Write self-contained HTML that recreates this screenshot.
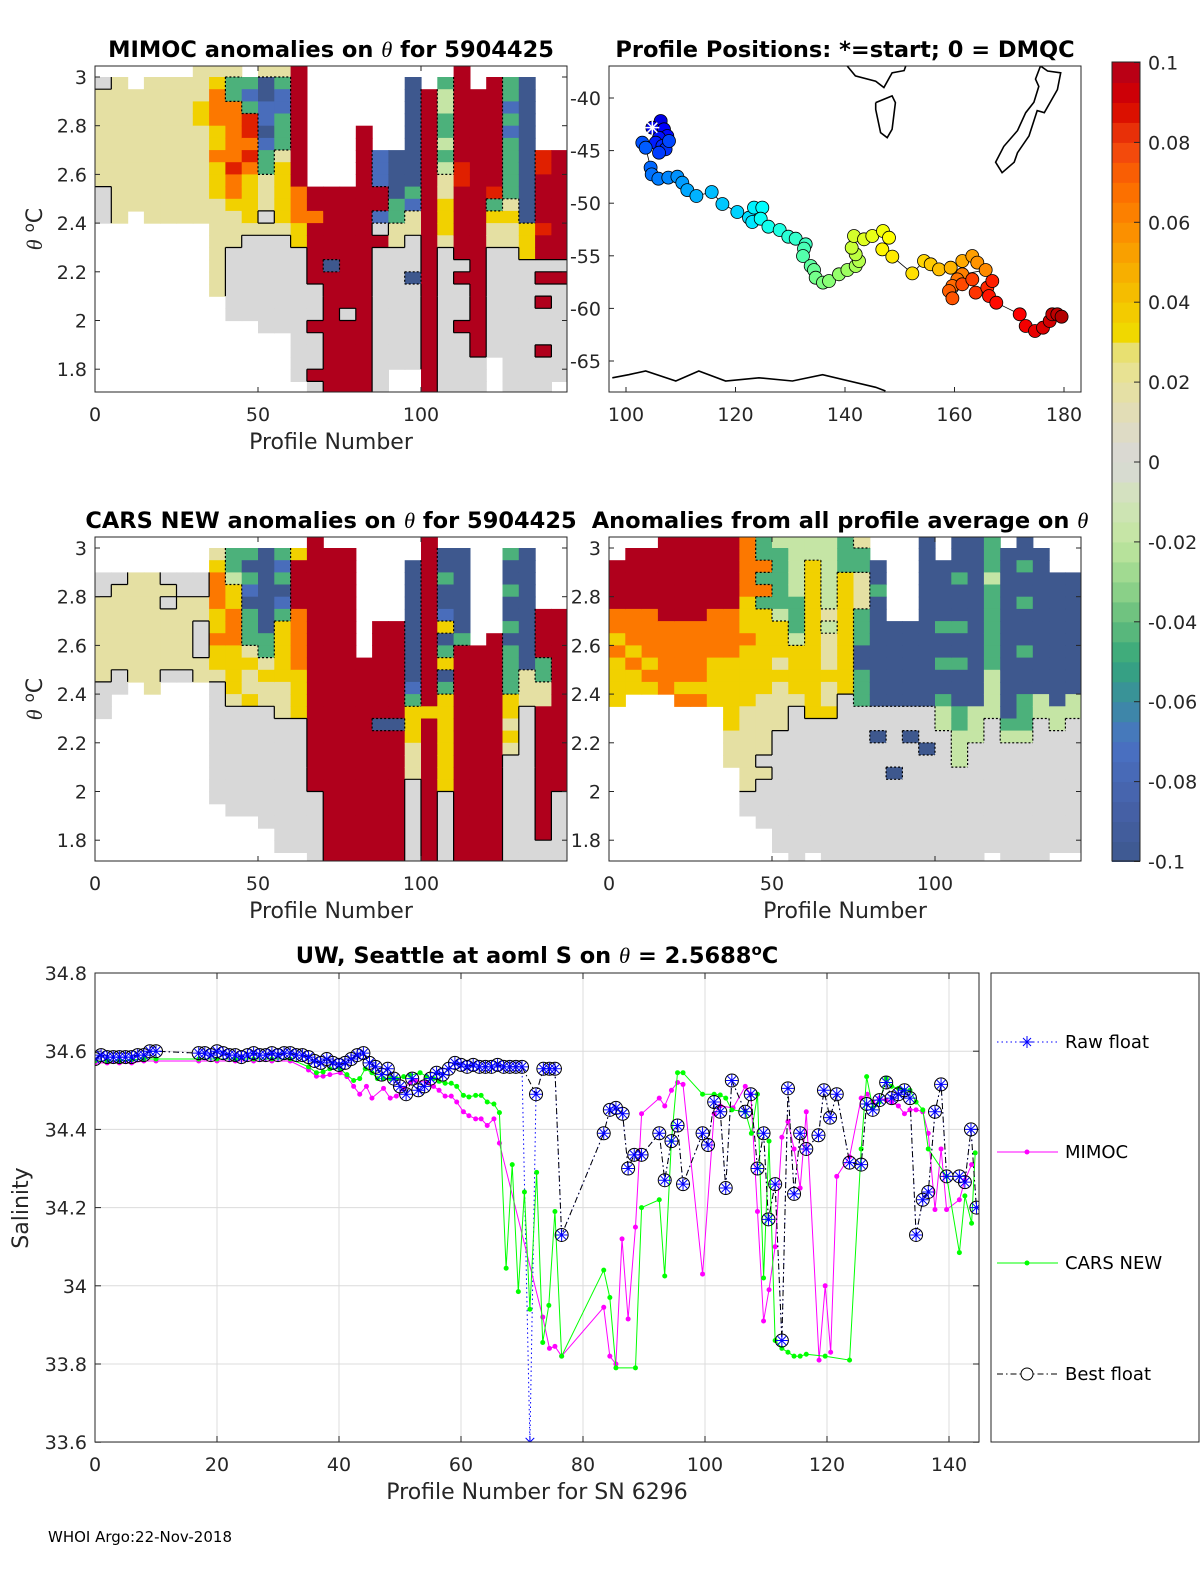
<!DOCTYPE html>
<html><head><meta charset="utf-8">
<style>
html,body{margin:0;padding:0;background:#fff;}
svg{display:block;font-family:"DejaVu Sans","Liberation Sans",sans-serif;}
.t{font-size:19px;fill:#262626;}
.ttl{font-size:22.5px;font-weight:bold;fill:#000;}
.lab{font-size:22px;fill:#262626;}
</style></head>
<body>
<svg id="fig" width="1200" height="1575" viewBox="0 0 1200 1575">
<defs>
<clipPath id="c1"><rect x="95" y="66" width="472" height="326"/></clipPath>
<clipPath id="c3"><rect x="95" y="537" width="472" height="324"/></clipPath>
<clipPath id="c4"><rect x="609" y="537" width="472" height="324"/></clipPath>
<clipPath id="cm"><rect x="609" y="66" width="472" height="326"/></clipPath>
<clipPath id="cb"><rect x="95" y="973" width="884" height="469"/></clipPath>
</defs>
<g id="p1"></g>
<g id="pm"></g>
<g id="p3"></g>
<g id="p4"></g>
<g id="cbar"></g>
<g id="pb"></g>

<text class="ttl" x="331" y="57" text-anchor="middle">MIMOC anomalies on <tspan font-style="italic" font-weight="normal" font-family="Liberation Serif">θ</tspan>  for 5904425</text>
<text class="ttl" x="845" y="57" text-anchor="middle">Profile Positions: *=start; 0 = DMQC</text>
<text class="ttl" x="331" y="528" text-anchor="middle">CARS NEW anomalies on <tspan font-style="italic" font-weight="normal" font-family="Liberation Serif">θ</tspan> for 5904425</text>
<text class="ttl" x="840" y="528" text-anchor="middle">Anomalies from all profile average on <tspan font-style="italic" font-weight="normal" font-family="Liberation Serif">θ</tspan></text>
<text class="lab" x="331" y="449" text-anchor="middle">Profile Number</text>
<text class="lab" x="331" y="918" text-anchor="middle">Profile Number</text>
<text class="lab" x="845" y="918" text-anchor="middle">Profile Number</text>
<text class="lab" transform="translate(42,229) rotate(-90)" text-anchor="middle"><tspan font-style="italic" font-family="Liberation Serif">θ</tspan> <tspan dy="-8" font-size="15">o</tspan><tspan dy="8">C</tspan></text>
<text class="lab" transform="translate(42,699) rotate(-90)" text-anchor="middle"><tspan font-style="italic" font-family="Liberation Serif">θ</tspan> <tspan dy="-8" font-size="15">o</tspan><tspan dy="8">C</tspan></text>
<text class="ttl" x="537" y="963" text-anchor="middle">UW, Seattle at aoml S on <tspan font-style="italic" font-weight="normal" font-family="Liberation Serif">θ</tspan> = 2.5688<tspan dy="-8" font-size="15">o</tspan><tspan dy="8">C</tspan></text>
<text class="lab" x="537" y="1499" text-anchor="middle">Profile Number for SN 6296</text>
<text class="lab" transform="translate(28,1208) rotate(-90)" text-anchor="middle">Salinity</text>
<text x="48" y="1542" font-size="15" fill="#000">WHOI Argo:22-Nov-2018</text>

<g>
<rect x="991" y="973" width="208" height="469" fill="#fff" stroke="#262626" stroke-width="1"/>
<g>
<line x1="997" y1="1042" x2="1058" y2="1042" stroke="#0000ff" stroke-dasharray="1.5,3"/>
<path d="M1021 1042h12M1027 1036v12M1023 1038l8 8M1031 1038l-8 8" stroke="#0000ff" stroke-width="1"/>
<text x="1065" y="1048" font-size="18" fill="#000">Raw float</text></g>
<g>
<line x1="997" y1="1152" x2="1058" y2="1152" stroke="#ff00ff"/><circle cx="1027" cy="1152" r="2.5" fill="#ff00ff"/>
<text x="1065" y="1158" font-size="18" fill="#000">MIMOC</text></g>
<g>
<line x1="997" y1="1263" x2="1058" y2="1263" stroke="#00ff00"/><circle cx="1027" cy="1263" r="2.5" fill="#00ff00"/>
<text x="1065" y="1269" font-size="18" fill="#000">CARS NEW</text></g>
<g>
<line x1="997" y1="1374" x2="1058" y2="1374" stroke="#000" stroke-dasharray="6,3,1.5,3"/><circle cx="1027" cy="1374" r="6" fill="#fff" stroke="#000"/>
<text x="1065" y="1380" font-size="18" fill="#000">Best float</text></g>
</g>
</svg>
<script>
// ---------------- DATA ----------------
const anomalyCodes = ['R','r','o','y','l','g','e','c','b','B'];
const anomalyValues = [0.1,0.085,0.065,0.035,0.018,0,-0.018,-0.045,-0.075,-0.1];
const mimocGrid = [
"wgllllllllggg","wllllllllllll","wwllllllllll","wllllllllllll","wllllllllllll","wllllllllllll",
"lllyyllllllll","lyoooyyoyyyllllllll","lccooooorooylllgggggg","wcbcrroroyyyylggggggg",
"lBBbbBbcclllglgggggggg","lcbbccclyyyyylgggggggg","RRRRRRRRRRoooyyggggggggggg",
"wwwwwwwwwwRRoRRRRRgggRgggRg","wwwwwwwwwwRRRRRRBRRRRRRRRRR","wwwwwwwwwwRRRRRRRRRRgRRRRRR",
"wwwwwRRRRRRRRRRRRRRRRRRRRRR","wwwwwwwbbbRRbgRgggggggggggg","wwwwwwwBBBBccllggggggggggww",
"wBBBBBBBBBcbllgggBgggggggww","wwRRRRRRRRRRRRRRRRRRRRRRRRR","wceeccecellyyylgggggggggggg",
"RRRRRRRRrrRRRRRRgRgggRggggg","wwRRRRRRRRRRRRRRRRRRRRRRggg","wRRRRRRRRRrcyllgggggggggwww",
"wccbcbccccclyllgggggggggggg","wBBBBBBBBBBBByyyggggggggggg","wwwwwwwrrRRRRrRRgRgRgggRggg","wwwwwwwRRRRRRRRRgRggggggggw"];
const carsGrid = [
"wwwgglllllllggg","wwwglllllllgg","wwwlllllllll","wwwllllllllll","wwwglglllllg","wwwggllllllg",
"wwwggllgggll","wlyoooyyoyylgggggggggg","wcceyyoooyyyylggggggggg","wcBcbBccclyllyggggggggg",
"wBBBBBBBcclyllgggggggggg","wcbcBbcyyyyylllggggggggggg","wyRRRRoooooyyyyggggggggggg",
"RRRRRRRRRRRRRRRRRRRRRgggggg","wRRRRRRRRRRRRRRRRRRRRRRRRRR","wRRRRRRRRRRRRRRRRRRRRRRRRRR",
"wwwwwwwwwwRRRRRRRRRRRRRRRRR","wwwwwwwRRRRRRRRBRRRRRRRRRRR","wwwwwwwRRRRRRRRBRRRRRRRRRRR",
"wwBBBBBBBBBBbcyyylllggggggg","RRRRRRRRRRRRRRyRRRRRRRRRRRR","wBBcBBbyBcyBcyyyyyyyygggggg",
"wBBBBBBBcRRRRRRRRRRRRRRRRRR","wwwwwwwwwRRRRRRRRRRRRRRRRRR","wwwwwwwwRRRRRRRRRRRRRRRRRRR",
"wcBBcBBcBccccyylylggggggggg","wBBBBBBBBBBlllggggggggggggg","wwwwwwRRRRccllRRRRRRRRRRRgg","wwwwwwRRRRRRRRRRRRRRRgggggg"];
const avgGrid = [
"wwRRRRooyoyyyy","wRRRRRoooyoyy","wRRRRRooooyoy","RRRRRRRoooooo","RRRRRRRoooooyo","RRRRRRRoooooyo",
"RRRRRRooooyyyy","RRRRRRooooyyyyyylll","oooooyyyoyyyyylllllllgg","ccococyyyyyyylllllglgggg",
"eccccceyyylyllllgggggggggg","eeeeeccceyyyylgggggggggggggw","eeyyyyyyyyyyyyygggggggggggw",
"eeeeeelelllyllygggggggggggg","cccyyyyyyyyyygggggggggggggg","lcclllcccBBcccggggggggggggg",
"wwBBcBBBBBBBBBggBgggggggggg","wwwwwwwBBBBBBBgggggBggggggg","wwwwwwwBBBBBBBggBgggggggggg",
"BBBBBBBBBBBBBBgggBggggggggg","wwBBBBBcBBcBBceeggggggggggg","BBBcBBBcBBcBBBcceeeggggggggg",
"BBBBBBBBBBBBBBeeeggggggggggg","ccceccccccceeeeggggggggggg","wBBBBBBBBBBBBBBcegggggggggg",
"BBcBBcBBBcBBBccceggggggggggg","wBBBBBBBBBBBBeegggggggggggg","wwwBBBBBBBBBBBeegggggggggg","wwwBBBBBBBBBBeeggggggggggg"];

const trackLon = [106.33,104.81,106.94,107.55,106.03,105.42,106.64,107.24,106.03,107.85,102.98,103.59,104.50,104.69,105.91,107.73,109.38,110.29,111.20,112.85,115.65,117.60,120.33,122.47,123.07,123.38,124.90,124.60,126.00,128.07,129.65,130.99,132.82,132.51,132.33,133.73,134.34,134.64,135.98,137.08,138.90,140.43,141.95,142.56,141.95,141.22,141.64,143.47,144.99,146.94,148.04,146.82,148.64,152.30,154.43,155.65,157.17,159.30,161.43,163.26,164.17,165.69,161.43,160.52,159.61,159.00,159.61,161.43,163.26,163.87,165.99,166.91,166.30,167.64,171.90,173.00,174.70,176.16,177.38,177.87,178.78,179.57];
const trackLat = [-42.19,-42.82,-42.98,-43.61,-43.77,-44.25,-44.56,-44.88,-45.20,-44.09,-44.25,-44.72,-46.62,-47.26,-47.67,-47.57,-47.48,-48.05,-48.75,-49.32,-48.94,-50.08,-50.84,-51.38,-51.79,-50.42,-50.42,-51.47,-52.23,-52.55,-53.18,-53.37,-53.91,-54.32,-55.02,-55.97,-56.35,-57.08,-57.55,-57.40,-56.76,-56.35,-55.97,-55.49,-54.86,-54.23,-53.12,-53.43,-53.12,-52.64,-53.28,-54.39,-55.08,-56.67,-55.49,-55.81,-56.29,-56.13,-55.49,-55.02,-55.65,-56.35,-56.76,-57.24,-57.87,-58.35,-59.04,-57.71,-57.24,-58.50,-58.03,-57.40,-58.82,-59.46,-60.56,-61.67,-62.15,-61.83,-61.20,-60.56,-60.56,-60.79];
const coastAntarctica = [[97.5,-66.6],[100.5,-66.3],[103.6,-65.95],[109.1,-66.9],[113.3,-65.95],[118.2,-66.9],[124.3,-66.6],[130.4,-66.9],[135.9,-66.3],[145.6,-67.5],[147.4,-67.85]];
const coastAustralia = [[140.4,-36.96],[141.9,-37.9],[145.6,-38.4],[147.1,-39.0],[148.6,-37.6],[150.8,-37.4],[151.1,-36.96]];
const coastTasmania = [[145.6,-40.44],[148.6,-39.8],[149.2,-40.44],[148.6,-42.98],[147.7,-43.77],[146.5,-43.3],[145.6,-41.08],[145.6,-40.44]];
const coastNZ = [[175.7,-36.96],[177.0,-37.43],[179.4,-37.6],[178.8,-39.2],[176.4,-41.4],[175.1,-41.2],[173.6,-43.6],[171.5,-45.2],[170.9,-46.1],[168.7,-47.1],[167.5,-46.1],[169.0,-44.6],[171.5,-43.1],[173.0,-41.4],[174.5,-40.4],[175.4,-38.9],[174.8,-38.2],[175.7,-36.96]];

const bestX = [0,1,2,3,4,5,6,7,8,9,10,17,18,19,20,21,22,23,24,25,26,27,28,29,30,31,32,33,34,35,36,37,38,39,40,41,42,43,44,45,46,47,48,49,50,51,52,53,54,55,56,57,58,59,60,61,62,63,64,65,66,67,68,69,70,
72.3,73.5,74.5,75.4,76.5,83.4,84.4,85.4,86.5,87.4,88.4,89.6,92.5,93.4,94.5,95.5,96.4,99.6,100.5,101.5,102.5,103.4,104.4,106.6,107.5,108.6,109.6,110.4,111.5,112.6,113.6,114.6,115.6,116.6,118.6,119.5,120.5,121.6,123.7,125.6,126.5,127.5,128.6,129.7,130.6,131.7,132.7,133.6,134.6,135.7,136.6,137.7,138.7,139.6,141.7,142.6,143.6,144.5];
const bestS = [34.58,34.59,34.585,34.585,34.585,34.585,34.585,34.59,34.59,34.6,34.6,34.595,34.595,34.59,34.6,34.595,34.59,34.59,34.585,34.59,34.595,34.59,34.59,34.595,34.59,34.595,34.595,34.59,34.59,34.585,34.575,34.57,34.58,34.57,34.565,34.57,34.58,34.59,34.595,34.57,34.56,34.54,34.555,34.53,34.51,34.49,34.53,34.5,34.51,34.53,34.545,34.54,34.555,34.57,34.565,34.56,34.565,34.56,34.56,34.56,34.565,34.56,34.56,34.56,34.56,
34.49,34.555,34.555,34.555,34.13,34.39,34.45,34.455,34.44,34.30,34.335,34.335,34.39,34.27,34.37,34.41,34.26,34.39,34.36,34.47,34.445,34.25,34.525,34.445,34.49,34.30,34.39,34.17,34.26,33.86,34.505,34.235,34.39,34.35,34.385,34.50,34.43,34.49,34.315,34.31,34.465,34.45,34.475,34.52,34.48,34.49,34.50,34.48,34.13,34.22,34.24,34.445,34.515,34.28,34.28,34.265,34.40,34.20];
const rawX = bestX.slice(0,65).concat([71.3]).concat(bestX.slice(65));
const rawS = bestS.slice(0,65).concat([33.6]).concat(bestS.slice(65));
const mimocX = [0,2,4,6,8,10,17,20,23,26,29,32,35,36.3,37.4,38.5,40.2,41.3,42.4,43.4,44.5,45.4,47.3,48.4,49.4,50.6,51.7,52.5,54.4,55.5,56.4,57.4,58.4,59.3,60.4,61.3,62.4,63.3,64.3,65.4,66.3,
73.4,74.5,75.4,76.5,83.4,84.4,85.4,86.4,87.4,88.6,89.6,92.5,93.4,94.5,95.5,96.4,99.6,101.5,102.5,104.6,106.6,107.5,108.6,109.6,110.5,111.5,112.6,113.6,114.6,115.6,116.6,118.7,119.7,120.6,121.6,123.7,125.6,126.6,127.5,128.6,129.7,130.6,131.7,132.7,133.6,134.6,135.7,136.6,137.7,138.7,139.6,141.7,142.6,143.7];
const mimocS = [34.57,34.57,34.57,34.57,34.575,34.575,34.575,34.575,34.575,34.575,34.575,34.575,34.552,34.536,34.536,34.54,34.545,34.535,34.51,34.49,34.51,34.48,34.505,34.48,34.485,34.505,34.52,34.525,34.52,34.51,34.50,34.485,34.485,34.47,34.445,34.435,34.427,34.427,34.41,34.427,34.365,
33.92,33.84,33.845,33.82,33.945,33.82,33.80,34.12,33.915,34.15,34.44,34.48,34.46,34.50,34.52,34.515,34.03,34.44,34.46,34.455,34.51,34.49,34.19,33.91,33.99,34.10,34.38,34.42,34.35,34.25,34.445,33.81,34.00,33.83,34.28,34.33,34.48,34.49,34.47,34.48,34.475,34.47,34.46,34.44,34.45,34.45,34.445,34.39,34.195,34.35,34.195,34.22,34.27,34.31];
const carsX = [0,2,4,6,8,10,17,20,23,26,29,32,35,36.3,37.4,38.5,40.2,41.3,42.4,43.4,44.3,45.4,46.3,47.3,48.4,49.4,50.6,51.7,53.3,54.4,55.5,56.4,57.4,58.4,59.3,60.4,61.3,62.4,63.3,64.3,65.4,66.3,67.4,68.4,69.4,70.4,71.3,72.4,
73.4,74.4,75.4,76.5,83.4,84.4,85.4,88.6,89.6,92.5,93.4,94.5,95.5,96.4,99.6,101.5,102.5,103.4,104.4,106.6,107.6,108.6,109.6,110.5,111.5,112.6,113.6,114.6,115.6,116.6,119.7,123.7,125.6,126.5,127.5,128.6,129.7,130.6,131.7,132.7,133.6,134.6,135.7,136.6,139.6,141.7,142.6,143.7,144.3];
const carsS = [34.575,34.575,34.575,34.578,34.58,34.58,34.58,34.58,34.58,34.58,34.58,34.58,34.56,34.545,34.547,34.555,34.555,34.54,34.525,34.53,34.555,34.545,34.53,34.53,34.53,34.53,34.535,34.538,34.545,34.535,34.53,34.523,34.518,34.518,34.51,34.487,34.483,34.487,34.487,34.47,34.465,34.443,34.045,34.31,33.985,34.24,33.94,34.29,
33.855,33.95,34.19,33.82,34.04,33.97,33.79,33.79,34.20,34.22,34.025,34.37,34.545,34.545,34.49,34.49,34.488,34.48,34.45,34.445,34.39,34.49,34.02,34.37,33.86,33.84,33.83,33.82,33.82,33.825,33.82,33.81,34.35,34.535,34.455,34.47,34.53,34.51,34.505,34.50,34.50,34.47,34.45,34.35,34.28,34.085,34.23,34.16,34.34];

const p1XTicks = [0,50,100];
const thetaTicks = [3,2.8,2.6,2.4,2.2,2,1.8];
const thetaTickLabels = ['3','2.8','2.6','2.4','2.2','2','1.8'];
const lonTicks = [100,120,140,160,180];
const latTicks = [-40,-45,-50,-55,-60,-65];
const cbTicks = [0.1,0.08,0.06,0.04,0.02,0,-0.02,-0.04,-0.06,-0.08,-0.1];
const salXTicks = [0,20,40,60,80,100,120,140];
const salYTicks = [34.8,34.6,34.4,34.2,34,33.8,33.6];

// ---------------- HELPERS ----------------
const NS='http://www.w3.org/2000/svg';
function mk(tag, attrs, parent){ const e=document.createElementNS(NS,tag); for(const k in attrs) e.setAttribute(k,attrs[k]); parent.appendChild(e); return e; }
const cmapStops=[[-0.1,[62,88,142]],[-0.085,[70,98,170]],[-0.07,[74,114,196]],[-0.06,[58,140,160]],[-0.05,[52,166,122]],[-0.04,[100,188,124]],[-0.03,[150,214,140]],[-0.02,[194,230,160]],[-0.008,[212,226,190]],[0,[216,216,216]],[0.01,[224,220,190]],[0.022,[232,226,150]],[0.028,[232,224,110]],[0.03,[238,222,0]],[0.04,[244,196,0]],[0.05,[248,168,0]],[0.06,[252,136,0]],[0.07,[252,104,0]],[0.08,[240,64,16]],[0.085,[224,32,0]],[0.09,[214,0,0]],[0.1,[176,0,28]]];
function cmap(v){ v=Math.max(-0.1,Math.min(0.1,v)); for(let i=1;i<cmapStops.length;i++){ const a=cmapStops[i-1],b=cmapStops[i]; if(v<=b[0]){ const t=(v-a[0])/(b[0]-a[0]); return 'rgb('+a[1].map((c,j)=>Math.round(c+(b[1][j]-c)*t)).join(',')+')'; } } return 'rgb(176,0,28)'; }
function jet(t){ const r=Math.min(1,Math.max(0,1.5-Math.abs(4*t-3))),g=Math.min(1,Math.max(0,1.5-Math.abs(4*t-2))),b=Math.min(1,Math.max(0,1.5-Math.abs(4*t-1))); return 'rgb('+[r,g,b].map(c=>Math.round(c*255)).join(',')+')'; }
function text(parent,x,y,s,anchor,cls){ const e=mk('text',{x:x,y:y,'text-anchor':anchor||'middle','class':cls||'t'},parent); e.textContent=s; return e; }
function band(ch){ if(ch==='w'||ch===undefined) return null; const v=anomalyValues[anomalyCodes.indexOf(ch)]; return v>0.01?1:(v<-0.01?-1:0); }

// ---------------- HEATMAP PANELS ----------------
function heatPanel(gid, clip, x0, yTop, grid, showLeftTicks){
  const g=document.getElementById(gid);
  const xs=p=>x0+p*3.26;
  const ys=th=>yTop+(3-th)*243.5;
  const cells=mk('g',{'clip-path':'url(#'+clip+')'},g);
  
  
  grid.forEach((col,c)=>{
    for(let r=0;r<col.length;r++){
      const ch=col[r]; if(ch==='w') continue;
      const v=anomalyValues[anomalyCodes.indexOf(ch)];
      const y1=ys(3.05-0.05*r), y2=ys(3.0-0.05*r);
      const cell=mk('rect',{x:xs(c*5).toFixed(1),y:y1.toFixed(1),width:(xs(5)-xs(0)+0.6).toFixed(1),height:(y2-y1+0.6).toFixed(1),fill:cmap(v)},cells);
      
      
    }
  });
  // contour-like boundaries between anomaly bands
  let d='', dd='';
  grid.forEach((col,c)=>{
    for(let r=0;r<col.length;r++){
      const b=band(col[r]); if(b===null) continue;
      const y1=ys(3.05-0.05*r), y2=ys(3.0-0.05*r);
      const nb=grid[c+1]?band(grid[c+1][r]):null;
      if(nb!==null && nb!==b){ const seg=`M${xs(c*5+5).toFixed(1)} ${y1.toFixed(1)}V${y2.toFixed(1)}`; if(b<0||nb<0) dd+=seg; else d+=seg; }
      const db=band(col[r+1]);
      if(db!==null && db!==b){ const seg=`M${xs(c*5).toFixed(1)} ${y2.toFixed(1)}H${xs(c*5+5).toFixed(1)}`; if(b<0||db<0) dd+=seg; else d+=seg; }
    }
  });
  const ct=mk('path',{d:d,stroke:'#000','stroke-width':1.2,fill:'none'},cells);
  
  
  const ct2=mk('path',{d:dd,stroke:'#000','stroke-width':1.2,fill:'none','stroke-dasharray':'2,2'},cells);
  
  
  const h=(clip==='c1')?326:324, top=(clip==='c1')?66:537;
  const frame=mk('rect',{x:x0,y:top,width:472,height:h,fill:'none',stroke:'#262626','stroke-width':1},g);
  
  
  thetaTicks.forEach((th,i)=>{
    const y=ys(th);
    mk('line',{x1:x0,y1:y,x2:x0+5,y2:y,stroke:'#262626'},g);
    mk('line',{x1:x0+472,y1:y,x2:x0+467,y2:y,stroke:'#262626'},g);
    if(showLeftTicks){ const t=text(g,x0-8,y+7,thetaTickLabels[i],'end');   }
  });
  p1XTicks.forEach(p=>{
    mk('line',{x1:xs(p),y1:top,x2:xs(p),y2:top+5,stroke:'#262626'},g);
    mk('line',{x1:xs(p),y1:top+h,x2:xs(p),y2:top+h-5,stroke:'#262626'},g);
    const t=text(g,xs(p),top+h+29,String(p));
    
    
  });
}
heatPanel('p1','c1',95,77,mimocGrid,true);
heatPanel('p3','c3',95,548,carsGrid,true);
heatPanel('p4','c4',609,548,avgGrid,false);
(function(){ const g=document.getElementById('p4'); thetaTicks.forEach((th,i)=>{ const t=text(g,601,548+(3-th)*243.5+7,thetaTickLabels[i],'end');   }); })();

// ---------------- MAP ----------------
(function(){
  const g=document.getElementById('pm');
  const lx=lon=>626+(lon-100)*5.475, ly=lat=>98+(-40-lat)*10.52;
  const inner=mk('g',{'clip-path':'url(#cm)'},g);
  [coastAntarctica,coastAustralia,coastTasmania,coastNZ].forEach(c=>{
    const pl=mk('polyline',{points:c.map(p=>lx(p[0]).toFixed(1)+','+ly(p[1]).toFixed(1)).join(' '),fill:'none',stroke:'#000','stroke-width':1.6},inner);
    
    
  });
  const track=mk('polyline',{points:trackLon.map((lo,i)=>lx(lo).toFixed(1)+','+ly(trackLat[i]).toFixed(1)).join(' '),fill:'none',stroke:'#000','stroke-width':0.8},inner);
  
  
  const n=trackLon.length;
  trackLon.forEach((lo,i)=>{
    const c=mk('circle',{cx:lx(lo).toFixed(1),cy:ly(trackLat[i]).toFixed(1),r:6.5,fill:jet(0.1+0.85*i/(n-1)),stroke:'#000','stroke-width':0.8},inner);
    
    
  });
  const sx=lx(trackLon[1]), sy=ly(trackLat[1]);
  const star=mk('path',{d:`M${sx-7} ${sy}h14M${sx} ${sy-7}v14M${sx-5} ${sy-5}l10 10M${sx+5} ${sy-5}l-10 10`,stroke:'#fff','stroke-width':1.5},inner);
  
  
  const fr=mk('rect',{x:609,y:66,width:472,height:326,fill:'none',stroke:'#262626'},g);
  
  
  lonTicks.forEach(lo=>{ mk('line',{x1:lx(lo),y1:392,x2:lx(lo),y2:387,stroke:'#262626'},g);
    const t=text(g,lx(lo),421,String(lo));   });
  latTicks.forEach(la=>{ mk('line',{x1:609,y1:ly(la),x2:614,y2:ly(la),stroke:'#262626'},g);
    const t=text(g,601,ly(la)+7,String(la),'end');   });
})();

// ---------------- COLORBAR ----------------
(function(){
  const g=document.getElementById('cbar');
  const cy=v=>462-v*3995;
  for(let k=0;k<40;k++){ const v0=-0.1+k*0.005;
    const s=mk('rect',{x:1112,y:cy(v0+0.005).toFixed(1),width:28,height:(0.005*3995+0.5).toFixed(1),fill:cmap(v0+0.0025)},g);
    
     }
  mk('rect',{x:1112,y:62,width:28,height:799,fill:'none',stroke:'#262626'},g);
  cbTicks.forEach(v=>{ mk('line',{x1:1134,y1:cy(v),x2:1140,y2:cy(v),stroke:'#262626'},g);
    const t=text(g,1148,cy(v)+7,String(v),'start');   });
})();

// ---------------- SALINITY CHART ----------------
(function(){
  const g=document.getElementById('pb');
  const sx=p=>95+p*6.1, sy=s=>973+(34.8-s)*391;
  mk('rect',{x:95,y:973,width:884,height:469,fill:'#fff'},g);
  salXTicks.forEach(p=>{ const l=mk('line',{x1:sx(p),y1:973,x2:sx(p),y2:1442,stroke:'#dcdcdc'},g);  
    mk('line',{x1:sx(p),y1:1442,x2:sx(p),y2:1436,stroke:'#262626'},g); mk('line',{x1:sx(p),y1:973,x2:sx(p),y2:979,stroke:'#262626'},g);
    const t=text(g,sx(p),1471,String(p));   });
  salYTicks.forEach(s=>{ const l=mk('line',{x1:95,y1:sy(s),x2:979,y2:sy(s),stroke:'#dcdcdc'},g);  
    mk('line',{x1:95,y1:sy(s),x2:101,y2:sy(s),stroke:'#262626'},g); mk('line',{x1:979,y1:sy(s),x2:973,y2:sy(s),stroke:'#262626'},g);
    const t=text(g,87,sy(s)+7,String(s),'end');   });
  const plot=mk('g',{'clip-path':'url(#cb)'},g);
  function line(xs,ys,color,dash,name){ const pl=mk('polyline',{points:xs.map((x,i)=>sx(x).toFixed(1)+','+sy(ys[i]).toFixed(1)).join(' '),fill:'none',stroke:color,'stroke-width':1,'stroke-dasharray':dash||'none'},plot);   }
  line(rawX,rawS,'#0000ff','1.5,3','raw-float-line');
  line(mimocX,mimocS,'#ff00ff',null,'mimoc-line');
  mimocX.forEach((x,i)=>{ const c=mk('circle',{cx:sx(x),cy:sy(mimocS[i]),r:2.5,fill:'#ff00ff'},plot);   });
  line(carsX,carsS,'#00ff00',null,'cars-new-line');
  carsX.forEach((x,i)=>{ const c=mk('circle',{cx:sx(x),cy:sy(carsS[i]),r:2.5,fill:'#00ff00'},plot);   });
  line(bestX,bestS,'#000','6,3,1.5,3','best-float-line');
  bestX.forEach((x,i)=>{ const c=mk('circle',{cx:sx(x),cy:sy(bestS[i]),r:6.5,fill:'none',stroke:'#000','stroke-width':1},plot);   });
  rawX.forEach((x,i)=>{ const X=sx(x),Y=sy(rawS[i]);
    const a=mk('path',{d:`M${X-6} ${Y}h12M${X} ${Y-6}v12M${X-4.3} ${Y-4.3}l8.6 8.6M${X+4.3} ${Y-4.3}l-8.6 8.6`,stroke:'#0000ff','stroke-width':1},plot);
    
     });
  const fr=mk('rect',{x:95,y:973,width:884,height:469,fill:'none',stroke:'#262626'},g);
  
  
})();
</script>
</body></html>
